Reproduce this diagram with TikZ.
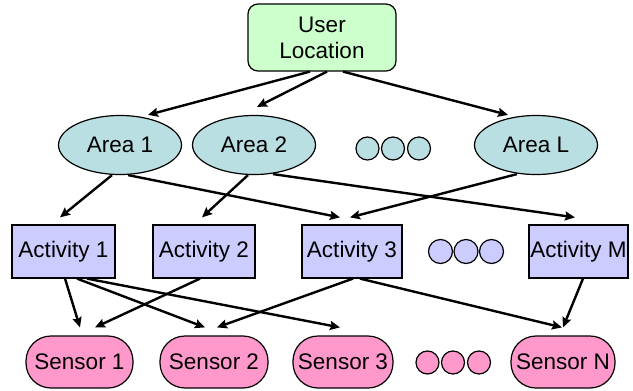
\documentclass[tikz,border=0pt]{standalone}
\usepackage{fontspec}
\setmainfont{Liberation Sans}
\usetikzlibrary{shapes.geometric,arrows.meta}
\definecolor{userfill}{HTML}{CCFFCC}
\definecolor{areafill}{HTML}{B9DFE3}
\definecolor{actfill}{HTML}{CCCCFF}
\definecolor{sensfill}{HTML}{FF99CC}
\tikzset{
  every node/.style={font=\fontsize{22.5}{26}\selectfont, inner sep=0pt, line width=1.2pt},
  userbox/.style={draw, rounded corners=10pt, fill=userfill, minimum width=148pt, minimum height=67pt, align=center},
  areabox/.style={draw, ellipse, fill=areafill, minimum width=123pt, minimum height=59pt},
  actbox/.style={draw, rectangle, fill=actfill, minimum height=53pt},
  sensbox/.style={draw, rounded corners=25pt, fill=sensfill, minimum height=52pt},
  dot/.style={draw, circle, minimum size=23pt},
  arr/.style={line width=2.4pt, -{Stealth[length=10pt,width=9pt,inset=1.5pt]}}
}
\begin{document}
\begin{tikzpicture}[x=1pt,y=-1pt]
\useasboundingbox (0,0) rectangle (633,391);

% top level
\node[userbox] (ul) at (322,37.5) {User\\Location};

% areas
\node[areabox] (a1) at (120,145) {Area 1};
\node[areabox] (a2) at (254,145) {Area 2};
\node[areabox] (aL) at (536,145) {Area L};
\node[dot, fill=areafill] (ad1) at (367.5,148.5) {};
\node[dot, fill=areafill] (ad2) at (393,148.5) {};
\node[dot, fill=areafill] (ad3) at (419,148.5) {};

% activities
\node[actbox, minimum width=103pt] (act1) at (63.5,251.5) {Activity 1};
\node[actbox, minimum width=102pt] (act2) at (204,251.5) {Activity 2};
\node[actbox, minimum width=100pt] (act3) at (352,251.5) {Activity 3};
\node[actbox, minimum width=99pt] (actM) at (578.5,251.5) {Activity M};
\node[dot, minimum size=24pt, fill=actfill] (cd1) at (440.5,251.5) {};
\node[dot, minimum size=24pt, fill=actfill] (cd2) at (466,251.5) {};
\node[dot, minimum size=24pt, fill=actfill] (cd3) at (491.5,251.5) {};

% sensors
\node[sensbox, minimum width=107pt] (s1) at (79.5,362) {Sensor 1};
\node[sensbox, minimum width=108pt] (s2) at (214,362) {Sensor 2};
\node[sensbox, minimum width=100pt] (s3) at (343,362) {Sensor 3};
\node[sensbox, minimum width=104pt] (sN) at (563,362) {Sensor N};
\node[dot, fill=sensfill] (sd1) at (427.5,362.5) {};
\node[dot, fill=sensfill] (sd2) at (453,362.5) {};
\node[dot, fill=sensfill] (sd3) at (479,362.5) {};

% user location -> areas
\draw[arr] ([xshift=-12pt]ul.south) -- ([xshift=28pt]a1.north);
\draw[arr] ([xshift=5pt]ul.south) -- ([xshift=3pt,yshift=8pt]a2.north);
\draw[arr] ([xshift=21pt]ul.south) -- ([xshift=-28pt]aL.north);

% areas -> activities
\draw[arr] ([xshift=-8pt]a1.south) -- ([xshift=-3.5pt,yshift=7pt]act1.north);
\draw[arr] ([xshift=8pt]a1.south) -- ([xshift=-12pt,yshift=7pt]act3.north);
\draw[arr] ([xshift=-6pt]a2.south) -- ([xshift=-2pt,yshift=7pt]act2.north);
\draw[arr] ([xshift=19pt,yshift=1pt]a2.south) -- ([xshift=-3.5pt,yshift=7pt]actM.north);
\draw[arr] ([xshift=-19pt,yshift=1pt]aL.south) -- ([xshift=-2pt,yshift=7pt]act3.north);

% activities -> sensors
\draw[arr] ([xshift=1.5pt]act1.south) -- ([xshift=0.5pt,yshift=8pt]s1.north);
\draw[arr] ([xshift=13.5pt]act1.south) -- ([xshift=-9pt,yshift=8pt]s2.north);
\draw[arr] ([xshift=23.5pt]act1.south) -- ([xshift=-3pt,yshift=8pt]s3.north);
\draw[arr] ([xshift=-4pt]act2.south) -- ([xshift=15.5pt,yshift=8pt]s1.north);
\draw[arr] ([xshift=1pt]act3.south) -- ([xshift=3pt,yshift=8pt]s2.north);
\draw[arr] ([xshift=8pt]act3.south) -- ([xshift=-1pt,yshift=8pt]sN.north);
\draw[arr] ([xshift=4.5pt]actM.south) -- ([yshift=8pt]sN.north);
\end{tikzpicture}
\end{document}
